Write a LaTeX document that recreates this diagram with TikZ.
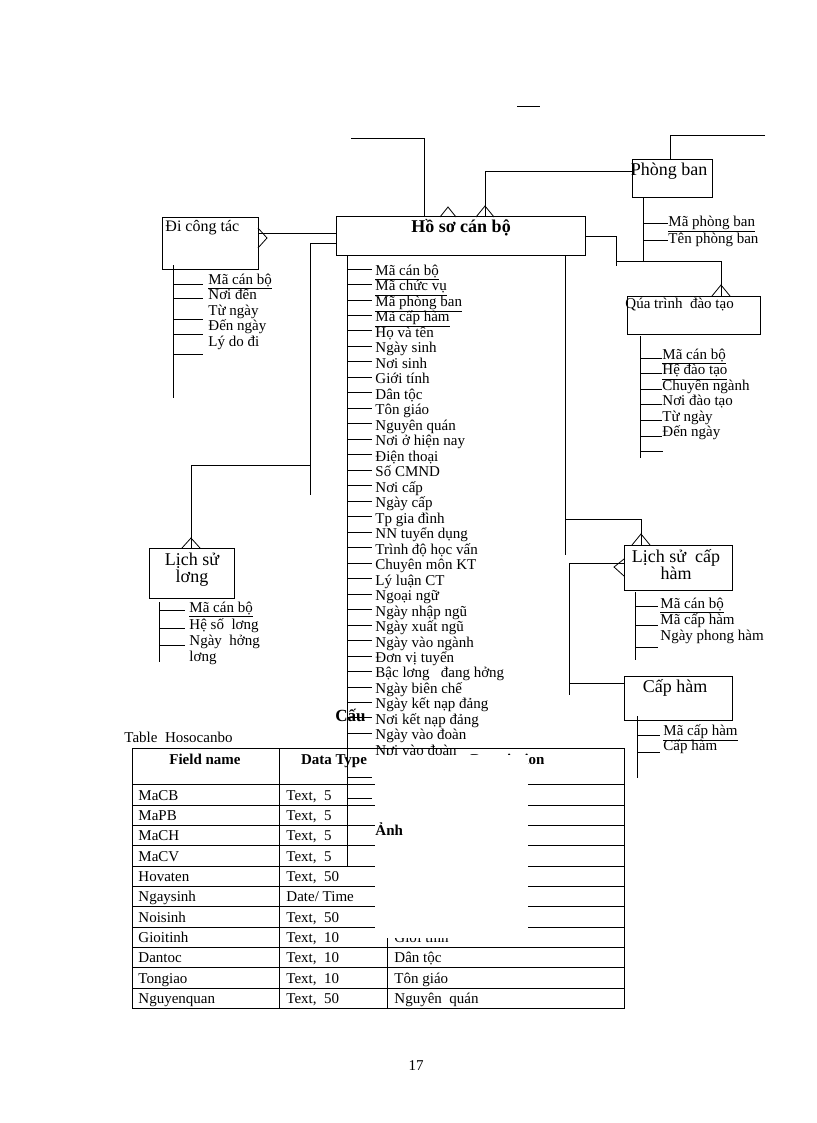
\documentclass[tikz,border=0pt]{standalone}
\usepackage{fontspec}
\setmainfont{Liberation Serif}
\begin{document}
\begin{tikzpicture}[x=1pt,y=-1pt,line width=0.9pt,
  txt/.style={anchor=west,inner sep=0pt,text height=10pt,text depth=3pt,font=\fontsize{15}{15}\selectfont},
  big/.style={font=\fontsize{18}{17}\selectfont,inner sep=0pt,align=center},
  ent/.style={draw,line width=1pt,minimum width=#1},
  crow/.style={line width=0.8pt}]
\useasboundingbox[fill=white] (0,0) rectangle (816,1123);
% ---------- table ----------
\node[txt] (tt) at (124,739) {Table\ \ Hosocanbo};
\draw[line width=1pt] (132,748) rectangle (624,1008);
\draw (279,748) -- (279,1008) (387,748) -- (387,1008);
\foreach \y in {784,805,825,845,866,886,906,927,947,967,988} \draw (132,\y) -- (624,\y);
\node[txt,anchor=center,font=\fontsize{15}{15}\selectfont\bfseries] (h1) at (205,761) {Field name};
\node[txt,anchor=center,font=\fontsize{15}{15}\selectfont\bfseries] (h2) at (334,761) {Data Type};
\node[txt,anchor=east,font=\fontsize{15}{15}\selectfont\bfseries] (h3) at (545,761) {Description};
\foreach \n/\t/\y in {MaCB/{Text,\ \ 5}/797,MaPB/{Text,\ \ 5}/817,MaCH/{Text,\ \ 5}/837,MaCV/{Text,\ \ 5}/858,
  Hovaten/{Text,\ \ 50}/878,Ngaysinh/{Date/ Time}/898,Noisinh/{Text,\ \ 50}/919,Gioitinh/{Text,\ \ 10}/939,
  Dantoc/{Text,\ \ 10}/959,Tongiao/{Text,\ \ 10}/980,Nguyenquan/{Text,\ \ 50}/1000}{
  \node[txt] (f\n) at (138,\y) {\n};
  \node[txt] (d\n) at (286,\y) {\t};}
\node[txt] (gt) at (394,939) {Giới tính};
\node[txt] (dt) at (394,959) {Dân tộc};
\node[txt] (tg) at (394,980) {Tôn giáo};
\node[txt] (nq) at (394,1000) {Nguyên\ \ quán};
\fill[white] (375,755) rectangle (528,938);
\node[txt,font=\fontsize{17}{17}\selectfont\bfseries] (cau) at (335,718) {Cấu};
\node[txt,font=\fontsize{15}{15}\selectfont\bfseries] (anh) at (375,832) {Ảnh};
% ---------- Ho so can bo ----------
\node[ent=249pt,minimum height=38pt] (hs) at (460.5,236) {};
\node[font=\fontsize{18}{18}\selectfont\bfseries] at (461,228) {Hồ sơ cán bộ};
\draw (347,255) -- (347,866);
\foreach \t [count=\i from 0] in {\underline{Mã cán bộ},\underline{Mã chức vụ},\underline{Mã phòng ban},\underline{Mã cấp hàm},
  Họ và tên,Ngày sinh,Nơi sinh,Giới tính,Dân tộc,Tôn giáo,Nguyên quán,Nơi ở hiện nay,Điện thoại,Số CMND,Nơi cấp,Ngày cấp,
  Tp gia đình,NN tuyển dụng,Trình độ học vấn,Chuyên môn KT,Lý luận CT,Ngoại ngữ,Ngày nhập ngũ,Ngày xuất ngũ,Ngày vào ngành,
  Đơn vị tuyển,Bậc lơng\ \ \ đang hởng,Ngày biên chế,Ngày kết nạp đảng,Nơi kết nạp đảng,Ngày vào đoàn,Nơi vào đoàn}{
  \node[txt] (a\i) at (375,272+15.48*\i) {\t};
  \draw (347,269+15.48*\i) -- (372,269+15.48*\i);}
\draw (347,777) -- (372,777) (347,798) -- (372,798);
% top stray lines
\draw (517,106) -- (540,106);
\draw (351,138) -- (424,138) -- (424,217);
\draw[crow] (440,217) -- (448,207) -- (456,217);
% ---------- Phong ban ----------
\node[ent=80pt,minimum height=38pt] (pb) at (672,179) {};
\node[big] at (669,171) {Phòng ban};
\draw (765,135) -- (670,135) -- (670,160);
\draw (632,171) -- (485,171) -- (485,217);
\draw[crow] (476,217) -- (485,206) -- (494,217);
\draw (643,198) -- (643,262);
\draw (643,223) -- (668,223) (643,240) -- (668,240);
\node[txt] (pb1) at (668,223) {\underline{Mã phòng ban}};
\node[txt] (pb2) at (668,240) {Tên phòng ban};
% ---------- Qua trinh dao tao ----------
\draw (585,236) -- (616,236) -- (616,266);
\draw (616,261) -- (721,261) -- (721,296);
\draw[crow] (712,296) -- (721,285) -- (730,296);
\node[ent=133pt,minimum height=38pt] (qt) at (693.5,315) {};
\node[txt] at (625,305) {Qúa trình\ \ đào tạo};
\draw (640,336) -- (640,458);
\foreach \t [count=\i from 0] in {\underline{Mã cán bộ},\underline{Hệ đào tạo},Chuyên ngành,Nơi đào tạo,Từ ngày,Đến ngày}{
  \node[txt] (q\i) at (662,356+15.4*\i) {\t};
  \draw (640,358+15.6*\i) -- (662,358+15.6*\i);}
\draw (640,451) -- (663,451);
% ---------- Di cong tac ----------
\node[ent=96pt,minimum height=51pt] (dc) at (210,243.5) {};
\node[txt,font=\fontsize{16}{16}\selectfont] at (165,228) {Đi công tác};
\draw (258,233) -- (337,233);
\draw[crow] (258,228) -- (267,238) -- (258,248);
\draw (173,265) -- (173,398);
\foreach \t/\y in {\underline{Mã cán bộ}/281,Nơi đến/296,Từ ngày/312,Đến ngày/327,Lý do đi/343}{
  \node[txt] at (208,\y) {\t};}
\foreach \y in {284,298,319,334,354} \draw (173,\y) -- (203,\y);
% ---------- Lich su luong ----------
\draw (337,243) -- (310,243) -- (310,495);
\draw (310,465) -- (191,465) -- (191,548);
\draw[crow] (182,548) -- (191,538) -- (200,548);
\node[ent=85pt,minimum height=50pt] (ll) at (191.5,573) {};
\node[big] at (192,570) {Lịch sử\\lơng};
\draw (159,602) -- (159,662);
\foreach \y in {610,628,645} \draw (159,\y) -- (185,\y);
\node[txt] at (189,609) {\underline{Mã cán bộ}};
\node[txt] at (189,626) {Hệ số\ \ lơng};
\node[txt] at (189,642) {Ngày\ \ hởng};
\node[txt] at (189,658) {lơng};
% ---------- Lich su cap ham ----------
\draw (565,255) -- (565,555);
\draw (565,519) -- (641,519) -- (641,545);
\draw[crow] (632,545) -- (641,534) -- (650,545);
\node[ent=108pt,minimum height=45pt] (lc) at (678,567.5) {};
\node[big] at (676,565) {Lịch sử\ \ cấp\\hàm};
\draw[crow] (624,559) -- (614,567) -- (624,576);
\draw (624,563) -- (569,563) -- (569,695);
\draw (569,683) -- (624,683);
\draw (635,592) -- (635,660);
\foreach \y in {606,625,647} \draw (635,\y) -- (658,\y);
\node[txt] at (660,605) {\underline{Mã cán bộ}};
\node[txt] at (660,621) {Mã cấp hàm};
\node[txt] at (660,637) {Ngày phong hàm};
% ---------- Cap ham ----------
\node[ent=108pt,minimum height=44pt] (ch) at (678,698) {};
\node[big] at (675,688) {Cấp hàm};
\draw (637,716) -- (637,778);
\foreach \y in {735,752} \draw (637,\y) -- (660,\y);
\node[txt] at (663,732) {\underline{Mã cấp hàm}};
\node[txt] at (663,747) {Cấp hàm};
% page number
\node[font=\fontsize{15}{15}\selectfont] (pg) at (416,1066) {17};
\end{tikzpicture}
\end{document}
